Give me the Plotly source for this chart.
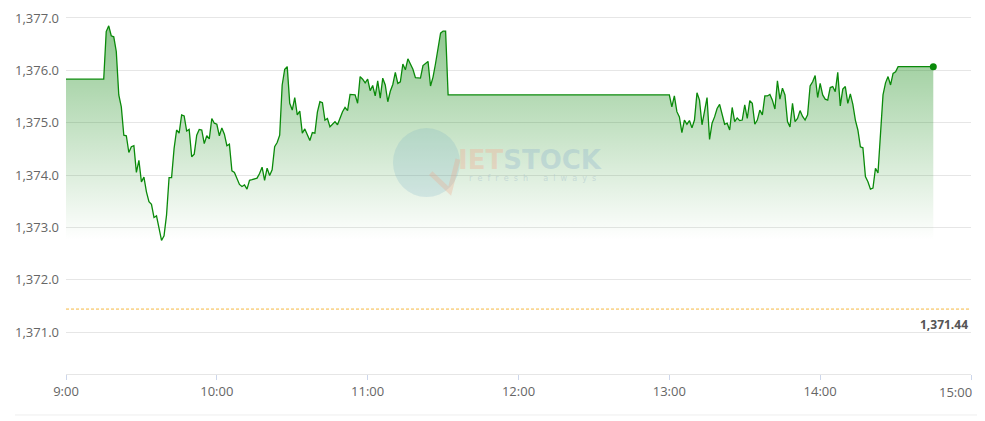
import plotly.graph_objects as go
import pandas as pd

# ---- data (minutes after 09:00, index value) ----
session1_minutes = [0, 15] + list(range(16, 153))
session1_values = [
    1375.83, 1375.83,
    1376.74, 1376.85, 1376.66, 1376.64, 1376.36, 1375.53, 1375.30, 1374.76, 1374.75, 1374.43,
    1374.54, 1374.56, 1374.05, 1374.28, 1373.87, 1373.96, 1373.68, 1373.49, 1373.44, 1373.19,
    1373.22, 1372.98, 1372.75, 1372.84, 1373.24, 1373.95, 1373.95, 1374.51, 1374.86, 1374.80,
    1375.15, 1375.13, 1374.84, 1374.87, 1374.35, 1374.40, 1374.76, 1374.87, 1374.86, 1374.60,
    1374.75, 1374.69, 1375.08, 1374.99, 1374.97, 1374.75, 1374.90, 1374.78, 1374.56, 1374.59,
    1374.08, 1374.05, 1373.95, 1373.82, 1373.78, 1373.81, 1373.73, 1373.90, 1373.91, 1373.92,
    1373.94, 1374.03, 1374.15, 1373.90, 1374.13, 1373.99, 1374.10, 1374.54, 1374.62, 1374.76,
    1375.72, 1376.02, 1376.07, 1375.37, 1375.24, 1375.48, 1375.15, 1375.22, 1374.80, 1374.88,
    1374.75, 1374.66, 1374.81, 1374.80, 1375.20, 1375.40, 1375.38, 1375.05, 1375.08, 1374.92,
    1374.97, 1375.02, 1374.96, 1375.08, 1375.21, 1375.29, 1375.23, 1375.54, 1375.53, 1375.53,
    1375.37, 1375.88, 1375.83, 1375.76, 1375.83, 1375.61, 1375.71, 1375.51, 1375.80, 1375.47,
    1375.85, 1375.72, 1375.40, 1375.60, 1375.73, 1375.96, 1375.75, 1375.78, 1376.12, 1376.01,
    1376.22, 1376.12, 1376.02, 1375.86, 1375.85, 1375.85, 1376.09, 1376.13, 1376.17, 1375.70,
    1375.87, 1376.13, 1376.46, 1376.71, 1376.75, 1376.75, 1375.53,
]
session2_minutes = list(range(240, 332)) + [345]
session2_values = [
    1375.53, 1375.30, 1375.51, 1375.21, 1375.11, 1374.81, 1375.05, 1374.97, 1375.04, 1374.90,
    1375.05, 1375.57, 1375.43, 1374.96, 1375.24, 1375.48, 1374.68, 1374.99, 1375.11, 1375.27,
    1375.35, 1375.18, 1374.97, 1374.99, 1374.86, 1375.29, 1375.02, 1375.09, 1375.04, 1375.05,
    1375.34, 1375.08, 1375.42, 1375.37, 1374.97, 1375.05, 1375.24, 1375.15, 1375.51, 1375.51,
    1375.54, 1375.43, 1375.26, 1375.80, 1375.45, 1375.66, 1375.53, 1375.02, 1374.92, 1375.37,
    1375.02, 1375.08, 1375.23, 1375.12, 1375.05, 1375.15, 1375.70, 1375.78, 1375.90, 1375.48,
    1375.75, 1375.53, 1375.45, 1375.43, 1375.67, 1375.69, 1375.59, 1375.96, 1375.32, 1375.64,
    1375.69, 1375.37, 1375.55, 1375.35, 1375.05, 1374.86, 1374.54, 1374.52, 1373.97, 1373.87,
    1373.73, 1373.75, 1374.13, 1374.04, 1374.73, 1375.53, 1375.76, 1375.88, 1375.72, 1375.94,
    1375.97, 1376.07,
    1376.07,
]
reference_value = 1371.44
reference_label = "1,371.44"
y_ticks = [1371, 1372, 1373, 1374, 1375, 1376, 1377]
x_tick_hours = [9, 10, 11, 12, 13, 14, 15]
x_tick_labels = ["9:00", "10:00", "11:00", "12:00", "13:00", "14:00", "15:00"]

base = pd.Timestamp("2024-01-02 09:00")
minutes = session1_minutes + session2_minutes
values = session1_values + session2_values
times = [base + pd.Timedelta(minutes=m) for m in minutes]
tick_times = [pd.Timestamp(f"2024-01-02 {h:02d}:00") for h in x_tick_hours]

FONT = "Open Sans"
LINE_GREEN = "#0a8a0a"
NB = "\u00a0"

fig = go.Figure()
fig.add_trace(go.Scatter(
    x=times, y=values, mode="lines",
    line=dict(color=LINE_GREEN, width=1.3),
    fill="tozeroy",
    fillgradient=dict(
        type="vertical",
        colorscale=[[0, "rgba(0,128,0,0)"], [1, "rgba(0,128,0,0.44)"]],
        start=min(values), stop=max(values),
    ),
    hoverinfo="skip", showlegend=False,
))
fig.add_trace(go.Scatter(
    x=[times[-1]], y=[values[-1]], mode="markers",
    marker=dict(color="#0a8a0a", size=7),
    hoverinfo="skip", showlegend=False,
))

# reference (previous close) line
fig.add_shape(type="line", xref="paper", x0=0, x1=1, yref="y",
              y0=reference_value, y1=reference_value,
              line=dict(color="#f5b942", width=1, dash="3px,2px"), layer="above")
fig.add_annotation(text=f"<b>{reference_label}</b>", xref="paper", x=0.9985, xanchor="right",
                   yref="y", y=reference_value, yanchor="top", yshift=-5, showarrow=False,
                   font=dict(family=FONT, size=12, color="#555555"))

# last x label shifted inward
fig.add_annotation(text=x_tick_labels[-1], xref="paper", x=0.983, xanchor="center",
                   yref="paper", y=-0.049, yanchor="middle", showarrow=False,
                   font=dict(family=FONT, size=13, color="#666666"))

# bottom separator line
fig.add_shape(type="line", xref="paper", x0=-0.0564, x1=1.0155, yref="paper",
              y0=-0.112, y1=-0.112, line=dict(color="#eeeeee", width=1))

# faint watermark
fig.add_shape(type="circle", xref="paper", yref="paper",
              x0=0.3613, x1=0.4354, y0=0.4836, y1=0.6721,
              fillcolor="rgba(110,170,195,0.2)", line=dict(width=0), layer="above")
fig.add_shape(type="path", xref="paper", yref="paper",
              path="M 0.403 0.549 L 0.424 0.500 L 0.433 0.587",
              line=dict(color="rgba(240,165,135,0.3)", width=5), layer="above")
fig.add_annotation(
    text='<span style="color:rgba(240,175,150,0.38)">IET</span><span style="color:rgba(150,185,205,0.38)">STOCK</span>',
    xref="paper", yref="paper", x=0.5130, y=0.585, xanchor="center", yanchor="middle",
    showarrow=False, font=dict(family="DejaVu Sans", size=26, weight="bold"))
fig.add_annotation(
    text=(NB * 2).join("refresh") + NB * 6 + (NB * 2).join("always"),
    xref="paper", yref="paper", x=0.5150, y=0.533,
    xanchor="center", yanchor="middle", showarrow=False,
    font=dict(family="DejaVu Sans", size=8, color="rgba(170,195,205,0.5)"))

fig.update_layout(
    width=977, height=413,
    margin=dict(l=58, r=14, t=0, b=47, autoexpand=False),
    paper_bgcolor="white", plot_bgcolor="white",
    font=dict(family=FONT, size=13, color="#666666"),
    xaxis=dict(
        type="date",
        range=[tick_times[0], tick_times[-1]],
        tickvals=tick_times, ticktext=x_tick_labels[:-1] + [""],
        showgrid=False, zeroline=False,
        showline=True, linecolor="#e6e6e6", linewidth=1,
        ticks="outside", ticklen=5, tickcolor="#ccd6eb", tickwidth=1,
        tickfont=dict(family=FONT, size=13, color="#666666"),
        fixedrange=True,
    ),
    yaxis=dict(
        range=[1370.2, 1377.19],
        tickvals=y_ticks, tickformat=",.1f",
        showgrid=True, gridcolor="#e6e6e6", gridwidth=1,
        zeroline=False, showline=False, ticks="",
        ticklabelstandoff=6,
        tickfont=dict(family=FONT, size=13, color="#666666"),
        fixedrange=True,
    ),
)

fig.write_html("out.html")
